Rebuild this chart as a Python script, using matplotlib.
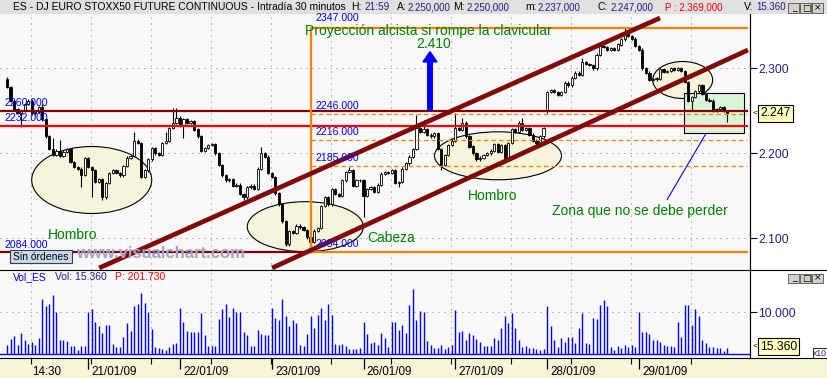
import matplotlib
matplotlib.use("Agg")
import matplotlib.pyplot as plt
from matplotlib.patches import Ellipse, Rectangle
from matplotlib.lines import Line2D
from matplotlib.ticker import FuncFormatter

plt.rcParams['font.family'] = ['Liberation Sans', 'DejaVu Sans']

# 30 minute bars, 20/01/09 (afternoon) .. 29/01/09, closes in index points
closes = [
    2278, 2262, 2252, 2248, 2250, 2258, 2262, 2247, 2249, 2254,
    2240, 2220, 2205, 2198, 2203, 2197, 2202, 2205, 2190, 2184,
    2182, 2175, 2194,
    # 21/01
    2184, 2180, 2166, 2170, 2148, 2165, 2177, 2180, 2177, 2174,
    2185, 2195, 2197, 2215, 2212, 2172, 2180, 2193, 2206, 2200,
    2198, 2212, 2215, 2230, 2236, 2242,
    # 22/01
    2232, 2240, 2236, 2238, 2228, 2220, 2203, 2206, 2210, 2211,
    2200, 2186, 2174, 2168, 2170, 2162, 2163, 2152, 2148, 2160,
    2162, 2158, 2182, 2200, 2196, 2177,
    # 23/01
    2172, 2153, 2140, 2120, 2093, 2108, 2106, 2115, 2113, 2110,
    2101, 2096, 2109, 2112, 2138, 2148, 2140, 2158, 2152, 2150,
    2168, 2178, 2180, 2162, 2168, 2168,
    # 26/01
    2150, 2158, 2160, 2155, 2163, 2176, 2178, 2177, 2180, 2165,
    2166, 2182, 2188, 2196, 2205, 2230, 2225, 2228, 2222, 2220,
    2224, 2205, 2186, 2198, 2210, 2215,
    # 27/01
    2230, 2228, 2236, 2220, 2208, 2200, 2193, 2195, 2198, 2200,
    2203, 2211, 2202, 2210, 2195, 2212, 2228, 2225, 2236, 2228,
    2230, 2222, 2215, 2212, 2220, 2230,
    # 28/01
    2272, 2274, 2272, 2269, 2272, 2283, 2280, 2289, 2295, 2292,
    2307, 2305, 2304, 2300, 2316, 2326, 2325, 2322, 2324, 2322,
    2328, 2334, 2342, 2338, 2335, 2326,
    # 29/01
    2322, 2300, 2295, 2286, 2287, 2288, 2299, 2296, 2297, 2300,
    2298, 2300, 2297, 2284, 2262, 2266, 2273, 2280, 2270, 2263,
    2262, 2250, 2252, 2254, 2250, 2247,
]
first_open = 2288
open_gaps = {153: 2250}
bar_highs = {0: 2290, 10: 2258, 13: 2218, 15: 2216, 36: 2225, 45: 2225,
             47: 2253, 48: 2253, 72: 2207, 97: 2184, 116: 2245, 118: 2239,
             127: 2247, 129: 2241, 146: 2241, 163: 2312, 175: 2347, 204: 2250}
bar_lows = {4: 2231, 21: 2160, 24: 2149, 27: 2145, 50: 2218, 67: 2145,
            86: 2084, 101: 2125, 111: 2160, 123: 2180, 141: 2192, 150: 2208,
            153: 2248, 194: 2250, 204: 2237}

# volume per bar, thousands of contracts
volumes_k = [
    22, 36, 44, 22, 50, 34, 24, 30, 22, 38, 132, 116, 120, 142, 100, 34, 34, 32, 20, 20,
    10, 20, 20, 100, 109, 76, 67, 50, 70, 70, 24, 18, 17, 40, 74, 56, 116, 120, 146, 122,
    100, 60, 17, 14, 13, 10, 17, 24, 28, 110, 76, 56, 54, 54, 54, 98, 47, 20, 20, 20,
    84, 108, 120, 88, 110, 101, 101, 54, 47, 20, 20, 58, 48, 47, 47, 110, 86, 82, 131, 90,
    67, 82, 74, 22, 20, 48, 90, 63, 93, 111, 82, 120, 93, 24, 22, 24, 20, 13, 13, 12,
    14, 76, 48, 28, 30, 22, 50, 38, 18, 76, 78, 58,
    70, 50, 117, 155, 82, 103, 100, 32, 22, 16, 16, 22, 13, 18, 22, 105, 52, 56, 34, 50,
    46, 36, 30, 20, 20, 20, 38, 34, 63, 90, 74, 98, 62, 34, 17, 20, 14, 14, 12, 10,
    12, 115, 67, 33, 17, 38, 30, 40, 40, 28, 62, 99, 28, 24, 86, 84, 117, 129, 115, 17,
    10, 20, 14, 22, 17, 22, 17, 100, 52, 54, 48, 34, 34, 29, 22, 20, 20, 17, 76, 42,
    117, 117, 70, 108, 91, 34, 26, 17, 17, 16, 14, 8, 15.36,
]

day_starts = [23, 49, 75, 101, 127, 153, 179]
day_labels = ['21/01/09', '22/01/09', '23/01/09', '26/01/09', '27/01/09', '28/01/09', '29/01/09']
time_tick_bar = 6.9
time_tick_label = '14:30'
price_ticks = [2100, 2200, 2300]
vol_ticks = [100000]

# drawn studies
neck_dark = 2250
neck_red = 2232
dashed_levels = [2246, 2216, 2185]
proj_top = 2347
head_low = 2084
head_bar = 86
upper_channel = ([26.1, 185.0], [2065.1, 2359.2])
lower_channel = ([75.1, 209.9], [2065.1, 2321.5])

W, H = 828, 378
navy = '#20208a'


def bar_at(px):
    return (px - 7.0) / 3.53


def price_at(py):
    return 2300 - (py - 68.3) / 0.85


def ftext(px, py, s, **kw):
    return fig.text(px / W, 1 - py / H, s, **kw)


def fline(xs, ys, **kw):
    fig.add_artist(Line2D([x / W for x in xs], [1 - y / H for y in ys],
                          transform=fig.transFigure, **kw))


def frect(x0, y0, x1, y1, **kw):
    fig.add_artist(Rectangle((x0 / W, 1 - y1 / H), (x1 - x0) / W, (y1 - y0) / H,
                             transform=fig.transFigure, **kw))


fig = plt.figure(figsize=(W / 100, H / 100), dpi=100, facecolor='white')

# bands
frect(0, 0, W, 14, facecolor='#e0e0e0', edgecolor='none', zorder=0)
frect(0, 358, W, H, facecolor='#f7f5d7', edgecolor='none', zorder=0)

ax_p = fig.add_axes([0, 1 - 270 / H, 750 / W, 256 / H])
ax_v = fig.add_axes([0, 20 / H, 750 / W, 88 / H])
xlim = (bar_at(0), bar_at(750))

for ax in (ax_p, ax_v):
    ax.set_facecolor('#f8f8f8')
    ax.set_xlim(*xlim)
    for s in ('top', 'left', 'bottom'):
        ax.spines[s].set_visible(False)
    ax.spines['right'].set_linewidth(0.8)
    ax.yaxis.tick_right()
    ax.tick_params(axis='y', length=5, width=0.8, pad=1, labelcolor=navy, labelsize=8.7)
    for gx in [time_tick_bar + 17 * k for k in range(12)]:
        ax.axvline(gx, color='#808080', lw=0.72, ls=(0, (1, 5)), zorder=0.5)

# ---------------- price panel ----------------
ax_p.set_ylim(price_at(270), price_at(14))
ax_p.set_xticks([])
ax_p.set_yticks(price_ticks)
ax_p.yaxis.set_major_formatter(FuncFormatter(lambda v, p: f"{v / 1000:.3f}"))
for lv in price_ticks:
    ax_p.axhline(lv, color='#808080', lw=0.72, ls=(0, (1, 5)), zorder=0.5)

ell_style = dict(facecolor='#f6f4da', edgecolor='black', lw=0.8, zorder=1)
for (cx, cy, w, h) in [(91.7, 180, 120, 67), (305.3, 226.7, 116, 50),
                       (498, 155.8, 127, 48), (682.7, 80, 60, 37)]:
    ax_p.add_patch(Ellipse((bar_at(cx), price_at(cy)), w / 3.53, h / 0.85, **ell_style))
ax_p.add_patch(Rectangle((bar_at(684.3), price_at(133.3)), 60 / 3.53, 40 / 0.85,
                         facecolor='#d9f6d9', edgecolor='black', lw=0.8, zorder=1))

opens = [first_open] + closes[:-1]
for i, o in open_gaps.items():
    opens[i] = o
idx = list(range(len(closes)))
highs = [bar_highs.get(i, max(opens[i], closes[i]) + 1.5) for i in idx]
lows = [bar_lows.get(i, min(opens[i], closes[i]) - 1.5) for i in idx]
ax_p.vlines(idx, lows, highs, color='black', lw=0.8, zorder=3)
bodies = [max(abs(c - o), 0.8) for o, c in zip(opens, closes)]
bottoms = [min(o, c) for o, c in zip(opens, closes)]
fills = ['white' if c >= o else 'black' for o, c in zip(opens, closes)]
ax_p.bar(idx, bodies, bottom=bottoms, width=0.62, color=fills, edgecolor='black',
         linewidth=0.6, zorder=4)

x_end = bar_at(747)
x_head = bar_at(310.6)
ax_p.plot([xlim[0], x_end], [neck_dark, neck_dark], color='#800000', lw=1.6, zorder=5)
ax_p.plot([xlim[0], x_end], [neck_red, neck_red], color='#ff0000', lw=1.6, zorder=5)
for lv in dashed_levels:
    ax_p.plot([x_head, x_end], [lv, lv], color='#ff8000', lw=0.9, ls=(0, (3.5, 2.5)), zorder=5)
ax_p.plot([x_head, x_end], [proj_top, proj_top], color='#ff8000', lw=1.6, zorder=5)
ax_p.plot([xlim[0], x_head], [head_low, head_low], color='#800000', lw=1.6, zorder=5)
ax_p.plot([x_head, x_end], [head_low, head_low], color='#ff8000', lw=1.6, zorder=5)
ax_p.plot([head_bar, head_bar], [head_low, proj_top], color='#ff8000', lw=1.6, zorder=5)
for cx, cy in (upper_channel, lower_channel):
    ax_p.plot(cx, cy, color='#7f0a0a', lw=3.4, zorder=5, solid_capstyle='butt')

ax_p.plot([bar_at(705.7), bar_at(667.3)], [price_at(134), price_at(199.3)],
          color='#0000ff', lw=0.8, zorder=6)
ax_p.arrow(bar_at(430), price_at(110), 0, price_at(51.7) - price_at(110), width=1.3,
           head_width=4.0, head_length=12, length_includes_head=True,
           color='#0000ff', zorder=6)

# watermark and order box
ftext(76, 254, 'www.visualchart.com', color='#a2a2c6', fontsize=12, fontweight='bold',
      va='center', ha='left', zorder=7)
frect(10, 250, 71.7, 262.7, facecolor='#c8daf0', edgecolor='#404040', lw=0.8, zorder=7)
ftext(40.8, 256.5, 'Sin órdenes', fontsize=7.5, ha='center', va='center', zorder=8)

# level labels
blue_lbl = dict(color='#0000ff', fontsize=7.6, ha='left', va='center', zorder=7)
for px, py, s in [(5, 103, '2260.000'), (5, 118, '2232.000'), (5, 244.5, '2084.000'),
                  (315, 18.0, '2347.000'), (315, 105.8, '2246.000'),
                  (315, 131.8, '2216.000'), (315, 158.2, '2185.000'),
                  (315, 243.8, '2084.000')]:
    ftext(px, py, s, **blue_lbl)

green = dict(color='#008000', fontsize=10, ha='center', va='center', zorder=7)
ftext(428.5, 30.5, 'Proyección alcista si rompe la clavicular', **green)
ftext(434, 44.5, '2.410', **green)
ftext(73, 235, 'Hombro', **green)
ftext(493, 196, 'Hombro', **green)
ftext(391, 238, 'Cabeza', **green)
ftext(640, 211, 'Zona que no se debe perder', **green)

# current price marker
ftext(753, 113.4, '<', fontsize=6, ha='left', va='center')
ftext(760, 113.4, '2.247', fontsize=8.7, ha='left', va='center',
      bbox=dict(boxstyle='square,pad=0.18', facecolor='#ffffc0', edgecolor='black', lw=0.8))

# ---------------- volume panel ----------------
ax_v.set_ylim(-8810, 200700)
vols = [v * 1000 for v in volumes_k]
ax_v.vlines(idx, 0, vols, color='#0000ff', lw=1.0, zorder=3)
ax_v.axhline(0, color='#0000ff', lw=1.0, zorder=3)
for lv in vol_ticks:
    ax_v.axhline(lv, color='#808080', lw=0.72, ls=(0, (1, 5)), zorder=0.5)
ax_v.set_yticks(vol_ticks)
ax_v.yaxis.set_major_formatter(FuncFormatter(lambda v, p: f"{v / 10:,.0f}".replace(',', '.')))
ax_v.set_xticks(day_starts)
ax_v.set_xticks([time_tick_bar + 17 * k for k in range(12)], minor=True)
ax_v.tick_params(axis='x', which='major', length=8, width=0.9, labelbottom=False)
ax_v.tick_params(axis='x', which='minor', length=4, width=0.8)
for b, s in zip(day_starts, day_labels):
    ax_v.text(b + 0.9, -0.16, s, transform=ax_v.get_xaxis_transform(), fontsize=8.4,
              ha='left', va='center', clip_on=False)
ax_v.text(time_tick_bar + 0.15, -0.16, time_tick_label, transform=ax_v.get_xaxis_transform(),
          fontsize=8.4, ha='left', va='center', clip_on=False)

ftext(753, 346.5, '<', fontsize=6, ha='left', va='center')
ftext(760, 346.5, '15.360', fontsize=8.7, ha='left', va='center',
      bbox=dict(boxstyle='square,pad=0.18', facecolor='#ffffc0', edgecolor='black', lw=0.8))
frect(813, 348, 827, 358, facecolor='white', edgecolor='black', lw=0.6, zorder=5)
ftext(820, 353.2, 'x10', fontsize=6.2, ha='center', va='center', color=navy, zorder=6)

ftext(13, 277, 'Vol_ES', color='#0000ff', fontsize=7.5, ha='left', va='center')
ftext(55, 277, 'Vol: 15.360', color=navy, fontsize=7.5, ha='left', va='center')
ftext(115, 277, 'P: 201.730', color='#ff0000', fontsize=7.5, ha='left', va='center')

# frame lines
fline([0, W], [270, 270], color='black', lw=0.8)
fline([0, W], [358, 358], color='black', lw=0.8)
fline([750, 750], [14, 358], color='black', lw=0.8)

# header
for px, s, col, fs in [
        (13, 'ES - DJ EURO STOXX50 FUTURE CONTINUOUS - Intradía 30 minutos', 'black', 7.5),
        (351, 'H:', 'black', 7.5), (364, '21:59', navy, 7.2),
        (397, 'A:', 'black', 7.5), (408, '2.250,000', navy, 7.0),
        (453, 'M:', 'black', 7.5), (467, '2.250,000', navy, 7.0),
        (525, 'm:', 'black', 7.5), (538, '2.237,000', navy, 7.0),
        (598, 'C:', 'black', 7.5), (611, '2.247,000', navy, 7.0),
        (665, 'P : 2.369,000', '#ff0000', 7.0),
        (744, 'V:', 'black', 7.5), (756, '15.360', navy, 7.0)]:
    ftext(px, 7.5, s, color=col, fontsize=fs, ha='left', va='center')

for y0 in (3.5, 273.5):
    for x0, sym in ((788.5, '_'), (800.5, '□'), (812.5, '×')):
        frect(x0, y0, x0 + 11, y0 + 9, facecolor='#d4d0c8', edgecolor='#505050', lw=0.6)
        ftext(x0 + 5.5, y0 + 4.5, sym, fontsize=6.5, ha='center', va='center',
              family=['DejaVu Sans'])

fig.savefig('out.png', dpi=100, facecolor='white')
